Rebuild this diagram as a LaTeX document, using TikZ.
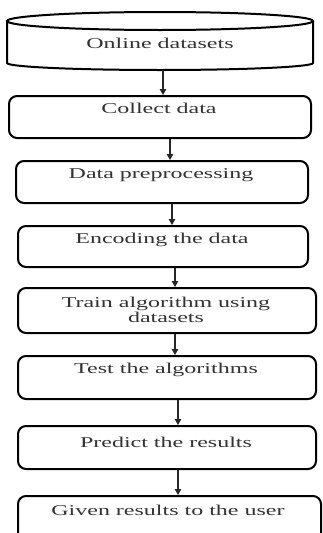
\documentclass[tikz,border=0pt]{standalone}
\usepackage{fontspec}
\newfontfamily\boxfont[FakeStretch=1.6]{Liberation Serif}
\usetikzlibrary{arrows.meta}
\begin{document}
\begin{tikzpicture}[x=1pt,y=1pt,
  box/.style={draw=black, line width=2pt, rounded corners=8pt, rectangle, anchor=north west, inner sep=0pt},
  txt/.style={font=\boxfont\fontsize{15}{13.5}\selectfont, text=black!80, align=center, inner sep=0pt},
  arr/.style={draw=black!85, line width=1.1pt, -{Triangle[length=6pt,width=6.5pt]}}]
\useasboundingbox (0,0) rectangle (323,-533);
\clip (0,0) rectangle (323,-533);
\fill[white] (0,0) rectangle (323,-533);
% cylinder
\draw[line width=2pt] (160,-21) ellipse [x radius=153, y radius=9];
\draw[line width=2pt] (7,-21) -- (7,-63) arc[start angle=180, end angle=360, x radius=153, y radius=7] -- (313,-21);
\node[txt] (cyltxt) at (160,-43) {Online datasets};
\coordinate (cylbot) at (163,-70);
% boxes
\node[box, minimum width=302pt, minimum height=42pt] (c) at (8,-95) {};
\node[txt] (ct) at (159,-108) {Collect data};
\node[box, minimum width=292pt, minimum height=42pt] (p) at (15,-160) {};
\node[txt] (pt) at (161,-175) {Data preprocessing};
\node[box, minimum width=290pt, minimum height=41pt] (e) at (17,-225) {};
\node[txt] (et) at (162,-240) {Encoding the data};
\node[box, minimum width=298pt, minimum height=45pt] (t) at (17,-287) {};
\node[txt] (tt) at (166,-310) {Train algorithm using\\datasets};
\node[box, minimum width=298pt, minimum height=43pt] (s) at (17,-355) {};
\node[txt] (st) at (166,-370) {Test the algorithms};
\node[box, minimum width=298pt, minimum height=43pt] (r) at (17,-425) {};
\node[txt] (rt) at (166,-442) {Predict the results};
\node[box, minimum width=303pt, minimum height=55pt] (g) at (17,-495) {};
\node[txt] (gt) at (168,-510) {Given results to the user};
% arrow columns
\coordinate (x1) at (163,0);
\coordinate (x2) at (170,0);
\coordinate (x3) at (172,0);
\coordinate (x4) at (175,0);
\coordinate (x5) at (178,0);
\draw[arr] (cylbot) -- (c.north -| x1);
\draw[arr] (c.south -| x2) -- (p.north -| x2);
\draw[arr] (p.south -| x3) -- (e.north -| x3);
\draw[arr] (e.south -| x4) -- (t.north -| x4);
\draw[arr] (t.south -| x4) -- (s.north -| x4);
\draw[arr] (s.south -| x5) -- (r.north -| x5);
\draw[arr] (r.south -| x5) -- (g.north -| x5);
\end{tikzpicture}
\end{document}
